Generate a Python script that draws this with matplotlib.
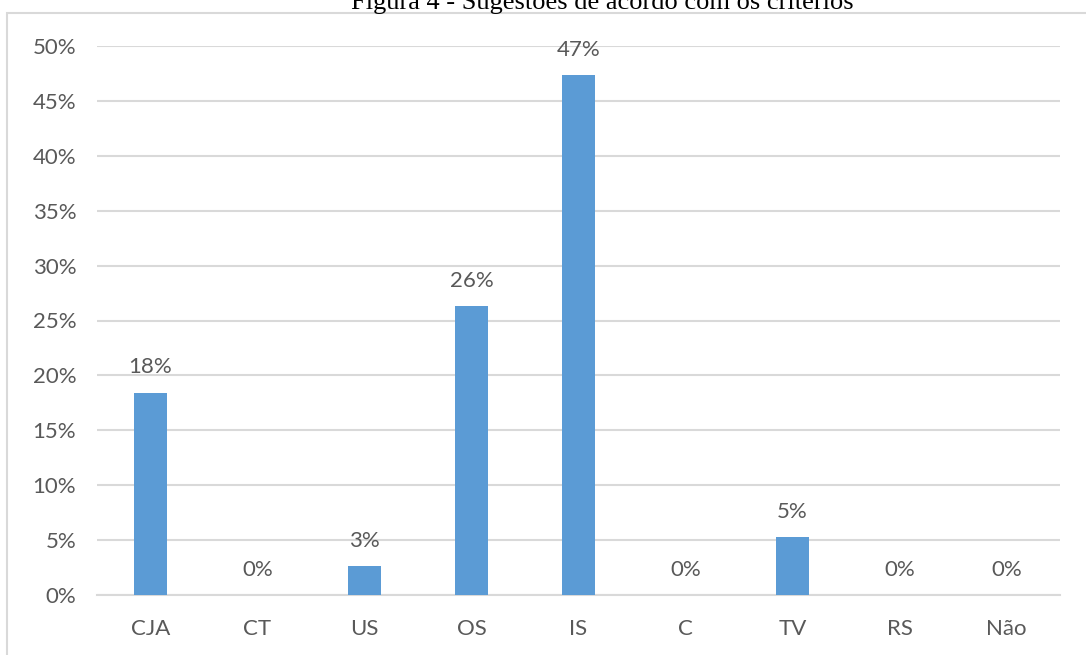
import matplotlib
matplotlib.use("Agg")
import matplotlib.pyplot as plt
from matplotlib.patches import Rectangle
from matplotlib.ticker import FuncFormatter

categories = ["CJA", "CT", "US", "OS", "IS", "C", "TV", "RS", "Não"]
values = [0.1842, 0.0, 0.0263, 0.2632, 0.4737, 0.0, 0.0526, 0.0, 0.0]

plt.rcParams['font.family'] = ['Lato', 'DejaVu Sans']
gray = "#595959"
grid = "#d9d9d9"

fig = plt.figure(figsize=(10.86, 6.55), dpi=100)
ax = fig.add_axes([97 / 1086, 1 - 595 / 655, (1060 - 97) / 1086, (595 - 46) / 655])

x = range(len(categories))
bars = ax.bar(x, values, width=0.31, color="#5b9bd5", zorder=3)

for xi, v in zip(x, values):
    ax.annotate(f"{v:.0%}", (xi, v), xytext=(0, 11), textcoords="offset points",
                ha="center", va="bottom", fontsize=16, color=gray)

ax.set_xlim(-0.5, len(categories) - 0.5)
ax.set_ylim(0, 0.5)
ax.set_yticks([i * 0.05 for i in range(11)])
ax.yaxis.set_major_formatter(FuncFormatter(lambda v, p: f"{v:.0%}"))
ax.set_xticks(list(x))
ax.set_xticklabels(categories)
ax.tick_params(axis="both", length=0, labelsize=16, labelcolor=gray)
ax.tick_params(axis="x", pad=17)
ax.tick_params(axis="y", pad=15)
ax.grid(axis="y", color=grid, linewidth=1.5, zorder=0)
for s in ["top", "right", "left"]:
    ax.spines[s].set_visible(False)
ax.spines["bottom"].set_color(grid)
ax.spines["bottom"].set_linewidth(1.5)

# outer frame of the chart
fig.patches.append(Rectangle((7 / 1086, -0.1), 1.2, 1 - 13 / 655 + 0.1,
                             transform=fig.transFigure, fill=False,
                             edgecolor=grid, linewidth=1.5))

fig.text(0.555, 1 - 9 / 655, "Figura 4 - Sugestões de acordo com os critérios",
         ha="center", va="baseline", fontsize=19, family="Liberation Serif", color="black")

fig.savefig("out.png", dpi=100)
